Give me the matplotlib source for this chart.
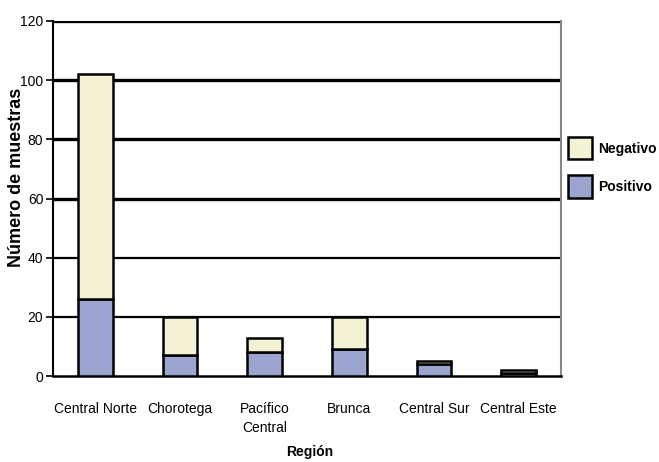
import matplotlib
matplotlib.use("Agg")
import matplotlib.pyplot as plt
from matplotlib.patches import Patch
import numpy as np

categories = ["Central Norte", "Chorotega", "Pacífico\nCentral", "Brunca", "Central Sur", "Central Este"]
positivo = [26, 7, 8, 9, 4, 1]
negativo = [76, 13, 5, 11, 1, 1]
yticks = [0, 20, 40, 60, 80, 100, 120]

col_pos = "#9ca4d0"
col_neg = "#f3f2d5"

plt.rcParams['font.family'] = ['Liberation Sans', 'DejaVu Sans']

fig = plt.figure(figsize=(6.59, 4.62), dpi=100)
ax = fig.add_axes([53/659, 1-376/462, (561-53)/659, (376-21)/462])

x = np.arange(len(categories))
w = 0.41
ax.bar(x, positivo, w, color=col_pos, edgecolor="black", linewidth=1.8, zorder=3)
ax.bar(x, negativo, w, bottom=positivo, color=col_neg, edgecolor="black", linewidth=1.8, zorder=3)

ax.set_xlim(-0.5, len(categories) - 0.5)
ax.set_ylim(0, 120)
ax.set_yticks(yticks)
ax.set_yticklabels([str(t) for t in yticks], fontsize=10)
for t in yticks[1:]:
    ax.axhline(t, color="black", linewidth=2.4 if t >= 60 else 1.6, zorder=1)

ax.set_xticks(x)
ax.set_xticklabels(categories, fontsize=10, linespacing=1.45)
ax.tick_params(axis="x", length=0, pad=19)
ax.tick_params(axis="y", length=5, width=1.2, direction="out", pad=2)

ax.spines["top"].set_visible(False)
ax.spines["right"].set_color("#888888")
ax.spines["right"].set_linewidth(1.5)
ax.spines["left"].set_linewidth(1.5)
ax.spines["bottom"].set_linewidth(1.8)

ax.set_ylabel("Número de muestras", fontsize=13, fontweight="bold")
ax.yaxis.set_label_coords((17-53)/508, (376-177)/355)
ax.set_xlabel("Región", fontsize=10, fontweight="bold")
ax.xaxis.set_label_coords((310-53)/508, (376-452)/355)
ax.xaxis.label.set_va("center")
ax.yaxis.label.set_va("center")

handles = [Patch(facecolor=col_neg, edgecolor="black", linewidth=1.8, label="Negativo"),
           Patch(facecolor=col_pos, edgecolor="black", linewidth=1.8, label="Positivo")]
leg = fig.legend(handles=handles, loc="upper left", bbox_to_anchor=(561/659, 1-130/462),
                 frameon=False, borderpad=0, handlelength=1.7, handleheight=2.1, handletextpad=0.45,
                 labelspacing=1.15, prop={"weight": "bold", "size": 10})

fig.savefig("out.png", dpi=100)
